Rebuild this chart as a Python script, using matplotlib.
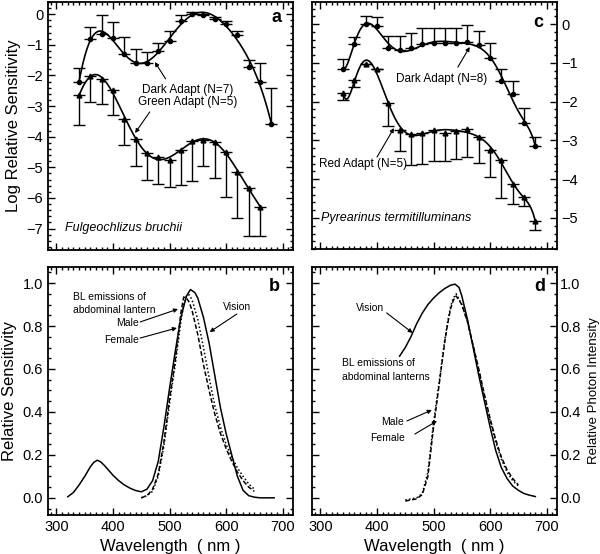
import matplotlib
matplotlib.use("Agg")
import matplotlib.pyplot as plt
import numpy as np
from matplotlib.ticker import MultipleLocator

plt.rcParams['font.family'] = ['Liberation Sans', 'DejaVu Sans']

# panels a and c: spectral sensitivity, log units
wl_dark = [340, 360, 380, 400, 420, 440, 460, 480, 500, 520, 540, 560, 580, 600, 620, 640, 660, 680]
wl_green = [340, 360, 380, 400, 420, 440, 460, 480, 500, 520, 540, 560, 580, 600, 620, 640, 660]

dark_a = [-2.20, -0.82, -0.63, -0.79, -1.30, -1.60, -1.58, -1.19, -0.87, -0.22, 0.0, -0.02,
          -0.14, -0.33, -0.68, -1.71, -2.20, -3.59]
dark_a_err = [0.43, 0.39, 0.60, 0.54, 0.56, 0.45, 0.36, 0.26, 0.33, 0.19, 0.08, 0.02,
              0.05, 0.11, 0.14, 0.21, 0.62, 1.17]
green_a = [-2.65, -2.02, -2.12, -2.47, -3.42, -4.07, -4.53, -4.67, -4.75, -4.42, -4.15, -4.10,
           -4.18, -4.51, -5.15, -5.67, -6.28]
green_a_err = [0.98, 0.83, 0.82, 0.81, 0.84, 0.87, 0.87, 0.89, 0.88, 1.17, 1.30, 0.86,
               1.16, 1.45, 1.49, 1.57, 0.96]

dark_c = [-1.17, -0.51, 0.0, -0.05, -0.63, -0.67, -0.63, -0.52, -0.48, -0.50, -0.48, -0.47,
          -0.54, -0.88, -1.47, -1.81, -2.56, -3.14]
dark_c_err = [0.27, 0.18, 0.20, 0.24, 0.32, 0.37, 0.41, 0.43, 0.39, 0.39, 0.39, 0.44,
              0.37, 0.40, 0.30, 0.35, 0.39, 0.24]
red_c = [-1.78, -1.44, -1.04, -1.17, -2.04, -2.73, -2.83, -2.80, -2.73, -2.80, -2.77, -2.71,
         -2.92, -3.24, -3.50, -4.13, -4.47, -5.09]
red_c_err = [0.18, 0.19, 0.0, 0.0, 0.58, 0.55, 0.80, 0.81, 0.80, 0.74, 0.70, 0.72,
             0.66, 0.71, 0.99, 0.50, 0.21, 0.21]

# panel b: Fulgeochlizus vision and lantern emission
wl_vis_b = [320, 330, 340, 350, 360, 366, 372, 378, 385, 390, 400, 410, 420, 430, 440, 450, 460,
            470, 480, 490, 500, 510, 520, 530, 537, 545, 550, 560, 570, 580, 590, 600, 610, 620,
            630, 640, 650, 660, 685]
vis_b = [0.005, 0.025, 0.06, 0.10, 0.145, 0.165, 0.175, 0.168, 0.15, 0.135, 0.105, 0.08, 0.06,
         0.045, 0.034, 0.028, 0.04, 0.08, 0.17, 0.33, 0.51, 0.68, 0.84, 0.94, 0.97, 0.955, 0.93,
         0.84, 0.72, 0.57, 0.42, 0.30, 0.20, 0.10, 0.035, 0.01, 0.003, 0.0, 0.0]
wl_em = [450, 460, 470, 480, 490, 500, 510, 520, 525, 530, 535, 540, 550, 560, 570, 580, 590,
         600, 610, 620, 630, 640, 650]
male_b = [0.0, 0.01, 0.03, 0.10, 0.24, 0.44, 0.62, 0.82, 0.90, 0.94, 0.945, 0.92, 0.83, 0.70,
          0.56, 0.43, 0.33, 0.25, 0.19, 0.14, 0.10, 0.065, 0.04]
female_b = [0.0, 0.01, 0.04, 0.11, 0.26, 0.46, 0.64, 0.86, 0.935, 0.93, 0.91, 0.87, 0.76, 0.62,
            0.50, 0.39, 0.30, 0.23, 0.17, 0.12, 0.08, 0.05, 0.03]

# panel d: Pyrearinus vision and lantern emission
wl_vis_d = [440, 450, 460, 470, 480, 490, 500, 510, 520, 530, 538, 545, 550, 560, 570, 580, 590,
            600, 610, 620, 630, 640, 650, 660, 670, 680]
vis_d = [0.66, 0.70, 0.75, 0.81, 0.86, 0.90, 0.93, 0.955, 0.975, 0.99, 0.995, 0.98, 0.94, 0.83,
         0.70, 0.57, 0.45, 0.33, 0.22, 0.14, 0.09, 0.055, 0.035, 0.02, 0.012, 0.006]
male_d = [-0.01, -0.005, 0.0, 0.02, 0.12, 0.35, 0.54, 0.74, 0.82, 0.89, 0.93, 0.95, 0.90, 0.82,
          0.71, 0.59, 0.47, 0.36, 0.26, 0.18, 0.12, 0.08, 0.055]
female_d = [-0.015, -0.01, -0.005, 0.015, 0.10, 0.33, 0.53, 0.73, 0.81, 0.88, 0.92, 0.94, 0.90,
            0.82, 0.71, 0.60, 0.48, 0.37, 0.27, 0.19, 0.13, 0.09, 0.06]

fig = plt.figure(figsize=(6, 5.54), dpi=100)
ax_a = fig.add_axes([0.08, 0.5487, 0.408, 0.4477])
ax_c = fig.add_axes([0.52, 0.5505, 0.408, 0.446])
ax_b = fig.add_axes([0.08, 0.0704, 0.408, 0.4477])
ax_d = fig.add_axes([0.52, 0.0704, 0.408, 0.4477])


def style(ax, ymajor, yminor):
    ax.set_xlim(285, 718)
    ax.xaxis.set_major_locator(MultipleLocator(100))
    ax.xaxis.set_minor_locator(MultipleLocator(10))
    ax.yaxis.set_major_locator(MultipleLocator(ymajor))
    ax.yaxis.set_minor_locator(MultipleLocator(yminor))
    ax.tick_params(which='both', direction='in', top=True, right=True, width=1)
    ax.tick_params(which='major', length=5, labelsize=10.5)
    ax.tick_params(which='minor', length=2.5)
    for s in ax.spines.values():
        s.set_linewidth(1.3)


def fit_line(ax, x, y, deg):
    p = np.polynomial.Polynomial.fit(x, y, deg)
    xs, ys = p.linspace(300)
    ax.plot(xs, ys, color='k', lw=1.2)


arrow = dict(arrowstyle='-|>', color='k', lw=0.8, mutation_scale=6, shrinkA=0, shrinkB=0)
note = dict(fontsize=7.5)
note_big = dict(fontsize=8.5)

# ---- panel a ----
ax = ax_a
style(ax, 1, 0.2)
ax.set_ylim(-7.7, 0.4)
fit_line(ax, wl_dark, dark_a, 8)
fit_line(ax, wl_green, green_a, 8)
ax.errorbar(wl_dark, dark_a, yerr=[np.zeros(len(dark_a)), dark_a_err], fmt='o', color='k',
            ms=3, capsize=4, elinewidth=1, capthick=1)
ax.errorbar(wl_green, green_a, yerr=[green_a_err, np.zeros(len(green_a))], fmt='^', color='k',
            ms=3.5, capsize=4, elinewidth=1, capthick=1)
ax.tick_params(labelbottom=False)
ax.set_ylabel("Log Relative Sensitivity", fontsize=12)
ax.text(690, -0.12, "a", fontsize=13, fontweight='bold', ha='center', va='center')
ax.text(315, -6.98, "Fulgeochlizus bruchii", fontsize=9, style='italic', va='center')
ax.text(532, -2.47, "Dark Adapt (N=7)", ha='center', va='center', **note_big)
ax.text(532, -2.87, "Green Adapt (N=5)", ha='center', va='center', **note_big)
ax.annotate("", xy=(474, -1.56), xytext=(493, -2.11), arrowprops=arrow)
ax.annotate("", xy=(439, -3.88), xytext=(465, -3.19), arrowprops=arrow)

# ---- panel c ----
ax = ax_c
style(ax, 1, 0.2)
ax.set_ylim(-5.8, 0.57)
fit_line(ax, wl_dark, dark_c, 9)
fit_line(ax, wl_dark, red_c, 9)
ax.errorbar(wl_dark, dark_c, yerr=[np.zeros(len(dark_c)), dark_c_err], fmt='o', color='k',
            ms=3, capsize=4, elinewidth=1, capthick=1)
ax.errorbar(wl_dark, red_c, yerr=[red_c_err, np.zeros(len(red_c))], fmt='^', color='k',
            ms=3.5, capsize=4, elinewidth=1, capthick=1)
ax.tick_params(labelbottom=False, labelleft=False, labelright=True)
ax.text(686, 0.05, "c", fontsize=13, fontweight='bold', ha='center', va='center')
ax.text(301, -5.0, "Pyrearinus termitilluminans", fontsize=9, style='italic', va='center')
ax.text(515, -1.42, "Dark Adapt (N=8)", ha='center', va='center', **note_big)
ax.text(375, -3.61, "Red Adapt (N=5)", ha='center', va='center', **note_big)
ax.annotate("", xy=(564, -0.59), xytext=(543, -1.11), arrowprops=arrow)
ax.annotate("", xy=(430, -2.68), xytext=(400, -3.43), arrowprops=arrow)

# ---- panel b ----
ax = ax_b
style(ax, 0.2, 0.05)
ax.set_ylim(-0.08, 1.075)
ax.plot(wl_vis_b, vis_b, color='k', lw=1.1)
ax.plot(wl_em, male_b, color='k', lw=1.1, ls=(0, (1, 1.5)))
ax.plot(wl_em, female_b, color='k', lw=1.1, ls=(0, (3, 1.5)))
ax.yaxis.set_major_formatter(matplotlib.ticker.FormatStrFormatter('%.1f'))
ax.set_ylabel("Relative Sensitivity", fontsize=12)
ax.set_xlabel("Wavelength  ( nm )", fontsize=12)
ax.text(686, 0.982, "b", fontsize=13, fontweight='bold', ha='center', va='center')
ax.text(329, 0.935, "BL emissions of", va='center', **note)
ax.text(329, 0.875, "abdominal lantern", va='center', **note)
ax.text(425, 0.814, "Male", ha='center', va='center', **note)
ax.text(416, 0.735, "Female", ha='center', va='center', **note)
ax.text(619, 0.889, "Vision", ha='center', va='center', **note)
ax.annotate("", xy=(515, 0.879), xytext=(448, 0.819), arrowprops=arrow)
ax.annotate("", xy=(513, 0.791), xytext=(448, 0.744), arrowprops=arrow)
ax.annotate("", xy=(571, 0.772), xytext=(619, 0.856), arrowprops=arrow)

# ---- panel d ----
ax = ax_d
style(ax, 0.2, 0.05)
ax.set_ylim(-0.08, 1.075)
ax.plot(wl_vis_d, vis_d, color='k', lw=1.1)
ax.plot(wl_em, male_d, color='k', lw=1.1, ls=(0, (1, 1.5)))
ax.plot(wl_em, female_d, color='k', lw=1.1, ls=(0, (3, 1.5)))
ax.yaxis.set_major_formatter(matplotlib.ticker.FormatStrFormatter('%.1f'))
ax.tick_params(axis='y', labelleft=False, labelright=True, pad=2.5)
ax.yaxis.set_label_position('right')
ax.set_ylabel("Relative Photon Intensity", fontsize=9.5, va='center')
ax.yaxis.set_label_coords(1.15, 0.5)
ax.set_xlabel("Wavelength  ( nm )", fontsize=12)
ax.text(688, 0.982, "d", fontsize=13, fontweight='bold', ha='center', va='center')
ax.text(387, 0.884, "Vision", ha='center', va='center', **note)
ax.text(338, 0.628, "BL emissions of", va='center', **note)
ax.text(338, 0.563, "abdominal lanterns", va='center', **note)
ax.text(428, 0.353, "Male", ha='center', va='center', **note)
ax.text(419, 0.279, "Female", ha='center', va='center', **note)
ax.annotate("", xy=(463, 0.768), xytext=(417, 0.861), arrowprops=arrow)
ax.annotate("", xy=(497, 0.409), xytext=(453, 0.358), arrowprops=arrow)
ax.annotate("", xy=(506, 0.358), xytext=(467, 0.297), arrowprops=arrow)

fig.savefig("out.png", dpi=100)
